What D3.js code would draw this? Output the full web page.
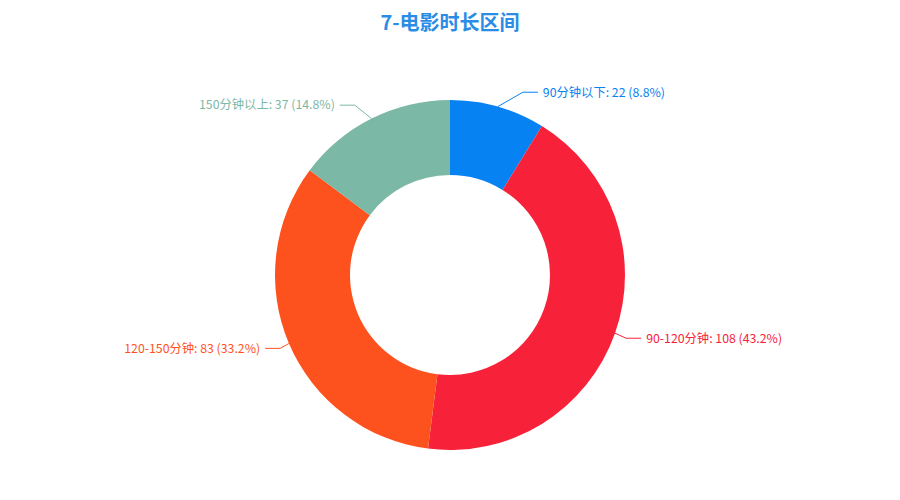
<!DOCTYPE html>
<html><head><meta charset="utf-8">
<script src="https://cdn.jsdelivr.net/npm/d3@7"></script>
<style>body{margin:0;background:#fff;}svg{display:block;}</style>
</head><body>
<svg id="c" width="900" height="500"></svg>
<script>
const titleText = "7-电影时长区间";
const categories = ["90分钟以下", "90-120分钟", "120-150分钟", "150分钟以上"];
const values = [22, 108, 83, 37];
const colors = ["#0682f2", "#f72239", "#fe521e", "#7cb8a6"];
// label position nudges (layout only)
const labelNudge = [[21, 0], [-3, 0], [5, -1], [-10, 0]];

const W = 900, H = 500, cx = 450, cy = 275, R = 175, r0 = 100;
const svg = d3.select("#c");
svg.append("text").attr("x", W/2).attr("y", 30).attr("text-anchor", "middle")
  .attr("font-family", "'Noto Sans CJK SC', sans-serif").attr("font-weight", "bold")
  .attr("font-size", 20).attr("fill", "#2b8ce6").text(titleText);

const total = d3.sum(values);
const data = categories.map((c, i) => ({c, v: values[i], i}));
const pie = d3.pie().value(d => d.v).sort(null);
const arcs = pie(data);
const arc = d3.arc().innerRadius(r0).outerRadius(R);
const g = svg.append("g").attr("transform", `translate(${cx},${cy})`);
g.selectAll("path").data(arcs).join("path").attr("d", arc).attr("fill", d => colors[d.data.i]);

const lg = g.append("g");
arcs.forEach(a => {
  const m = (a.startAngle + a.endAngle) / 2;
  const s = Math.sin(m), c = -Math.cos(m);
  const p0 = [R * s, R * c];
  const nd = labelNudge[a.data.i];
  const p1 = [(R + 15) * s + nd[0], (R + 15) * c + nd[1]];
  const dir = s >= 0 ? 1 : -1;
  const p2 = [p1[0] + dir * 15, p1[1]];
  const col = colors[a.data.i];
  lg.append("polyline").attr("points", [p0, p1, p2].map(p => p.join(",")).join(" "))
    .attr("fill", "none").attr("stroke", col).attr("stroke-width", 1);
  const pct = (a.data.v / total * 100).toFixed(1);
  lg.append("text").attr("x", p2[0] + dir * 5).attr("y", p2[1]).attr("dy", "0.35em")
    .attr("text-anchor", dir > 0 ? "start" : "end")
    .attr("font-family", "'Noto Sans CJK SC', sans-serif").attr("font-size", 12.3)
    .attr("fill", col).text(`${a.data.c}: ${a.data.v} (${pct}%)`);
});
</script>
</body></html>
